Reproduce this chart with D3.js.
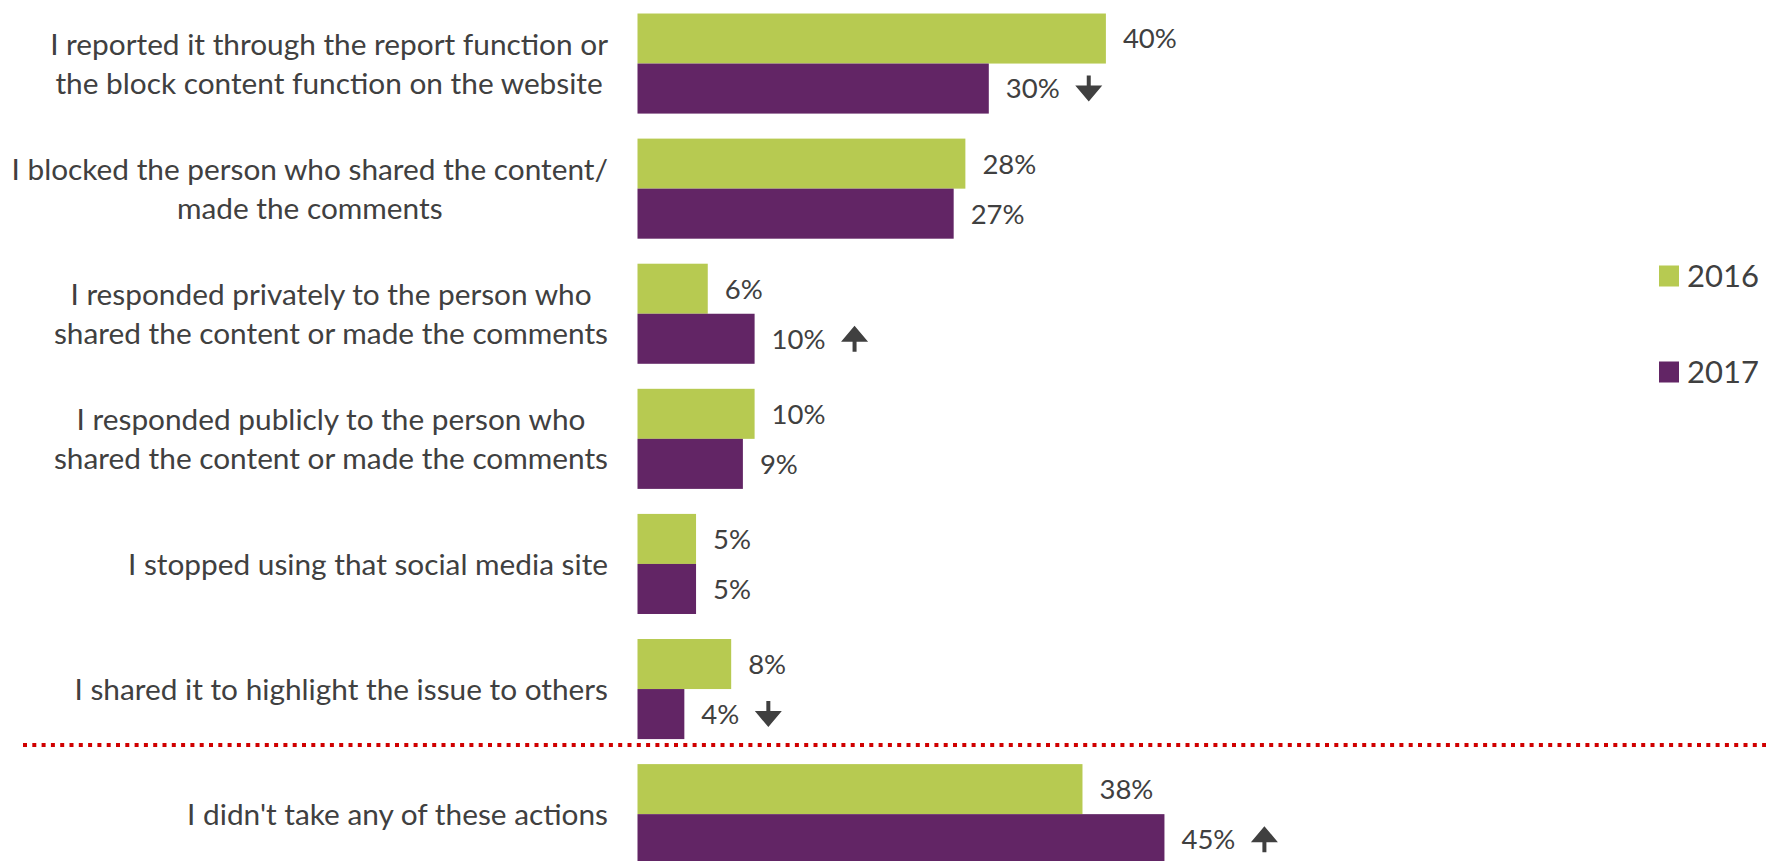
<!DOCTYPE html>
<html>
<head>
<meta charset="utf-8">
<script src="https://cdn.jsdelivr.net/npm/d3@7"></script>
<style>
    html, body { margin: 0; padding: 0; background: #ffffff; }
    svg { display: block; overflow: hidden; }
    text { font-family: Lato, 'Open Sans', sans-serif; fill: #404040; }
</style>
</head>
<body>
<svg id="chart" width="1766" height="861"></svg>
<script>
// chart data
const categories = [
    'I reported it through the report function or\nthe block content function on the website',
    'I blocked the person who shared the content/\nmade the comments',
    'I responded privately to the person who\nshared the content or made the comments',
    'I responded publicly to the person who\nshared the content or made the comments',
    'I stopped using that social media site',
    'I shared it to highlight the issue to others',
    'I didn\'t take any of these actions'
];
const series = ['2016', '2017'];
const values2016 = [40, 28, 6, 10, 5, 8, 38];
const values2017 = [30, 27, 10, 9, 5, 4, 45];
// significant change markers on 2017 values
const change2017 = ['down', null, 'up', null, null, 'down', 'up'];

const colors = { '2016': '#b7ca51', '2017': '#622565' };

const params = {
    width: 1766,
    height: 861,
    barLeft: 637.5,
    pxPerPercent: 11.71,
    top: 1,
    step: 125.1,
    labelRight: 608,
    labelSize: 29.8,
    labelLineHeight: 39.4,
    valueSize: 27.5,
    legendSize: 31
};

const rows = categories.map((c, i) => ({
    name: c,
    lines: c.split('\n'),
    values: [
        { key: '2016', value: values2016[i], change: null },
        { key: '2017', value: values2017[i], change: change2017[i] }
    ]
}));

const svg = d3.select('#chart');

const x = d3.scaleLinear()
    .domain([0, 100])
    .range([params.barLeft, params.barLeft + 100 * params.pxPerPercent]);

const y = d3.scaleBand()
    .domain(categories)
    .range([params.top, params.top + categories.length * params.step])
    .paddingInner(0.2)
    .paddingOuter(0.1);

const ySub = d3.scaleBand()
    .domain(series)
    .range([0, y.bandwidth()]);

// separator before the last row
const sepY = y(categories[categories.length - 1]) - 19;
svg.append('line')
    .attr('x1', 23)
    .attr('x2', params.width)
    .attr('y1', sepY)
    .attr('y2', sepY)
    .attr('stroke', '#d00000')
    .attr('stroke-width', 4)
    .attr('stroke-dasharray', '4,5.3');

const groups = svg.selectAll('g.row')
    .data(rows)
    .enter()
    .append('g')
    .attr('class', 'row')
    .attr('transform', d => `translate(0,${y(d.name)})`);

groups.selectAll('rect')
    .data(d => d.values)
    .enter()
    .append('rect')
    .attr('x', x(0))
    .attr('y', d => ySub(d.key))
    .attr('width', d => x(d.value) - x(0))
    .attr('height', ySub.bandwidth())
    .attr('fill', d => colors[d.key]);

const valueLabels = groups.selectAll('text.value')
    .data(d => d.values)
    .enter()
    .append('text')
    .attr('class', 'value')
    .attr('x', d => x(d.value) + 17)
    .attr('y', d => ySub(d.key) + ySub.bandwidth() / 2)
    .attr('dy', '0.36em')
    .style('font-size', params.valueSize + 'px')
    .text(d => d.value + '%');

// arrows after the changed values
valueLabels.each(function(d) {
    if (!d.change) return;
    const bbox = this.getBBox();
    const cx = bbox.x + bbox.width + 16 + 13;
    const cy = ySub(d.key) + ySub.bandwidth() / 2;
    const dir = d.change === 'up' ? -1 : 1;
    const h = 26, headH = 16, headW = 27, shaft = 4;
    const tip = cy + dir * h / 2;
    const base = cy - dir * h / 2;
    const headBase = tip - dir * headH;
    const path = [
        [cx - shaft / 2, base],
        [cx + shaft / 2, base],
        [cx + shaft / 2, headBase],
        [cx + headW / 2, headBase],
        [cx, tip],
        [cx - headW / 2, headBase],
        [cx - shaft / 2, headBase]
    ];
    d3.select(this.parentNode)
        .append('path')
        .attr('d', 'M' + path.map(p => p.join(',')).join('L') + 'Z')
        .attr('fill', '#404040');
});

// category labels, lines centred within a right-aligned block
groups.each(function(d) {
    const g = d3.select(this);
    const texts = g.selectAll('text.cat')
        .data(d.lines)
        .enter()
        .append('text')
        .attr('class', 'cat')
        .style('font-size', params.labelSize + 'px')
        .attr('text-anchor', 'middle')
        .text(t => t);
    const widest = d3.max(texts.nodes(), n => n.getComputedTextLength());
    const n = d.lines.length;
    const mid = y.bandwidth() / 2;
    texts
        .attr('x', params.labelRight - widest / 2)
        .attr('y', (t, i) => mid + (i - (n - 1) / 2) * params.labelLineHeight)
        .attr('dy', '0.36em');
});

// legend
const legend = svg.append('g')
    .attr('class', 'legend')
    .selectAll('g')
    .data(series)
    .enter()
    .append('g')
    .attr('transform', (d, i) => `translate(1659,${276 + i * 96})`);

legend.append('rect')
    .attr('x', 0)
    .attr('y', -10.5)
    .attr('width', 20)
    .attr('height', 21)
    .attr('fill', d => colors[d]);

legend.append('text')
    .attr('x', 28)
    .attr('y', 0)
    .attr('dy', '0.36em')
    .style('font-size', params.legendSize + 'px')
    .text(d => d);
</script>
</body>
</html>
